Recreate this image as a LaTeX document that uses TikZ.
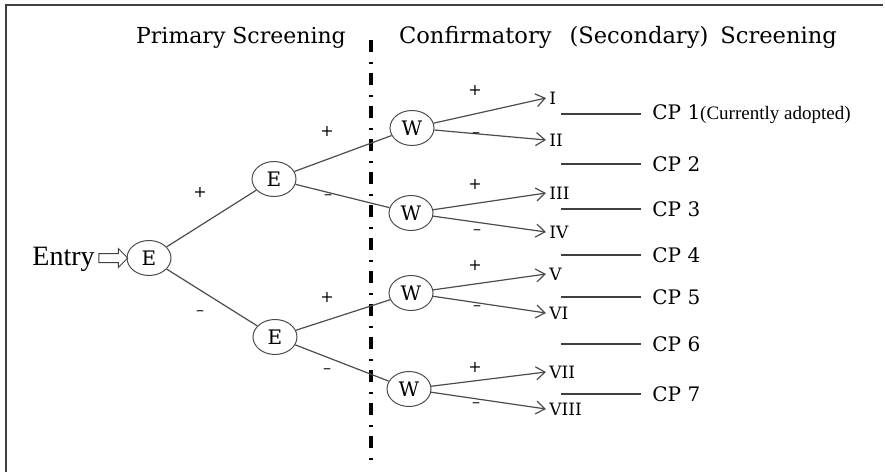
\documentclass[tikz,border=0pt]{standalone}
\usepackage{fontspec}
\setmainfont{DejaVu Serif}
\newfontfamily\timesfont{Liberation Serif}
\usetikzlibrary{shapes.geometric,shapes.arrows,arrows.meta}

\tikzset{
  frame/.style={draw=black!75,line width=1pt},
  heading/.style={anchor=base,inner sep=0pt,font=\fontsize{11}{11}\selectfont},
  divider/.style={draw=black,line width=1.6pt,dash pattern=on 6pt off 5pt on 1pt off 4.5pt},
  state/.style={ellipse,draw=black!70,line width=0.5pt,minimum width=22pt,minimum height=17.5pt,inner sep=0pt,font=\fontsize{10}{10}\selectfont},
  branch/.style={draw=black!70,line width=0.6pt},
  test/.style={branch,-{Straight Barb[length=4.5pt,width=6.5pt]}},
  sign/.style={inner sep=0pt,font=\fontsize{8}{8}\selectfont},
  numeral/.style={anchor=west,inner xsep=1.5pt,inner ysep=0pt,font=\fontsize{8.5}{8.5}\selectfont},
  cpline/.style={draw=black!75,line width=0.6pt},
  cplabel/.style={anchor=west,inner xsep=5.5pt,inner ysep=0pt,font=\fontsize{10}{10}\selectfont},
  entryarrow/.style={single arrow,draw=black!75,line width=0.5pt,minimum height=14.5pt,inner xsep=0pt,inner ysep=2pt,single arrow head extend=2.5pt}
}

\begin{document}
\begin{tikzpicture}[x=0.5pt,y=-0.5pt]
\useasboundingbox (0,0) rectangle (885,472);
\draw[frame] (6,472) -- (6,5) -- (883,5);

\node[heading] (prim) at (241,43) {Primary Screening};
\node[heading,font=\fontsize{11.3}{11.3}\selectfont] (conf) at (618,43) {Confirmatory\hspace{9pt}(Secondary)\hspace{6pt}Screening};
\draw[divider] (371,40) -- (371,467);

\node[anchor=base west,inner sep=0pt,font=\timesfont\fontsize{14}{14}\selectfont] (entry) at (32,265) {Entry};
\node[entryarrow] (in) at (111,258) {};

\node[state] (e1) at (149,258) {E};
\node[state] (e2) at (274,179) {E};
\node[state] (e3) at (275,337) {E};
\node[state] (w1) at (412,128) {W};
\node[state] (w2) at (411,213) {W};
\node[state] (w3) at (411,293) {W};
\node[state] (w4) at (409,389) {W};

\draw[branch] (e1) -- (e2);
\draw[branch] (e1) -- (e3);
\draw[branch] (e2) -- (w1);
\draw[branch] (e2) -- (w2);
\draw[branch] (e3) -- (w3);
\draw[branch] (e3) -- (w4);

\node[sign] (p1) at (200,192) {+};
\node[sign] (m1) at (200,313) {–};
\node[sign] (p2) at (327,131) {+};
\node[sign] (m2) at (328,197) {–};
\node[sign] (p3) at (327,297) {+};
\node[sign] (m3) at (327,371) {–};

\node[numeral] (r1) at (546,98) {I};
\node[numeral] (r2) at (546,140) {II};
\node[numeral] (r3) at (546,193) {III};
\node[numeral] (r4) at (546,232) {IV};
\node[numeral] (r5) at (546,274) {V};
\node[numeral] (r6) at (546,313) {VI};
\node[numeral] (r7) at (546,372) {VII};
\node[numeral] (r8) at (546,409) {VIII};

\draw[test] (w1) -- (r1.west);
\draw[test] (w1) -- (r2.west);
\draw[test] (w2) -- (r3.west);
\draw[test] (w2) -- (r4.west);
\draw[test] (w3) -- (r5.west);
\draw[test] (w3) -- (r6.west);
\draw[test] (w4) -- (r7.west);
\draw[test] (w4) -- (r8.west);

\node[sign] (p4) at (475,90) {+};
\node[sign] (m4) at (476,135) {–};
\node[sign] (p5) at (475,184) {+};
\node[sign] (m5) at (477,232) {–};
\node[sign] (p6) at (475,265) {+};
\node[sign] (m6) at (477,308) {–};
\node[sign] (p7) at (475,367) {+};
\node[sign] (m7) at (476,405) {–};

\coordinate (c1) at (561,114);
\coordinate (c2) at (561,164);
\coordinate (c3) at (561,209);
\coordinate (c4) at (561,255);
\coordinate (c5) at (561,297);
\coordinate (c6) at (561,344);
\coordinate (c7) at (561,394);
\node[cplabel] (cp1) at (641,114) {CP 1{\timesfont\fontsize{9.5}{9.5}\selectfont(Currently adopted)}};
\node[cplabel] (cp2) at (641,164) {CP 2};
\node[cplabel] (cp3) at (641,209) {CP 3};
\node[cplabel] (cp4) at (641,255) {CP 4};
\node[cplabel] (cp5) at (641,297) {CP 5};
\node[cplabel] (cp6) at (641,344) {CP 6};
\node[cplabel] (cp7) at (641,394) {CP 7};
\draw[cpline] (c1) -- (cp1.west);
\draw[cpline] (c2) -- (cp2.west);
\draw[cpline] (c3) -- (cp3.west);
\draw[cpline] (c4) -- (cp4.west);
\draw[cpline] (c5) -- (cp5.west);
\draw[cpline] (c6) -- (cp6.west);
\draw[cpline] (c7) -- (cp7.west);
\end{tikzpicture}
\end{document}
